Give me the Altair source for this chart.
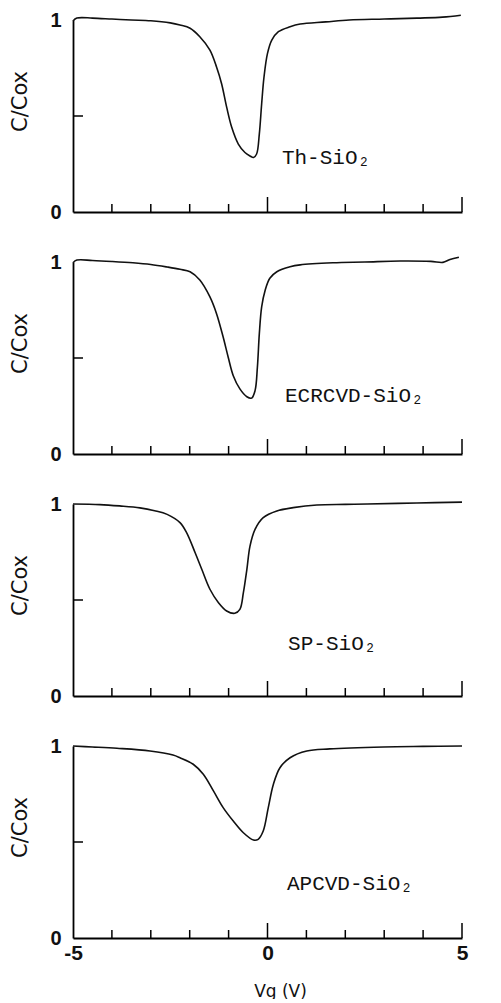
import altair as alt
import pandas as pd

# ---- data (Vg in volts, C/Cox) ----
VG_TH = [-5.0, -4.9, -4.5, -4.0, -3.5, -3.0, -2.5, -2.25, -1.99, -1.74, -1.48, -1.31, -1.18, -1.05,
         -0.92, -0.75, -0.58, -0.45, -0.36, -0.28, -0.21, -0.15, -0.09, 0.0, 0.11, 0.28, 0.58, 0.84,
         1.5, 2.1, 3.0, 3.84, 4.5, 4.97]
C_TH = [0.995, 1.01, 1.01, 1.005, 1.0, 0.996, 0.985, 0.974, 0.957, 0.913, 0.843, 0.755, 0.668, 0.546,
        0.441, 0.354, 0.31, 0.292, 0.284, 0.302, 0.407, 0.564, 0.703, 0.826, 0.895, 0.939, 0.965, 0.979,
        0.99, 1.0, 1.005, 1.01, 1.015, 1.025]

VG_ECR = [-5.0, -4.9, -4.5, -4.0, -3.46, -3.0, -2.58, -2.25, -1.99, -1.74, -1.48, -1.31, -1.14, -1.01,
          -0.88, -0.71, -0.53, -0.41, -0.32, -0.26, -0.21, -0.15, -0.06, 0.06, 0.24, 0.58, 0.84, 1.68,
          2.5, 3.41, 4.2, 4.51, 4.69, 4.92]
C_ECR = [0.996, 1.01, 1.008, 1.003, 0.996, 0.987, 0.974, 0.962, 0.949, 0.906, 0.818, 0.731, 0.609, 0.504,
         0.408, 0.339, 0.298, 0.291, 0.33, 0.452, 0.627, 0.766, 0.853, 0.915, 0.949, 0.975, 0.985, 0.996,
         1.0, 1.005, 1.003, 0.998, 1.013, 1.025]

VG_SP = [-5.0, -4.31, -3.8, -3.28, -2.9, -2.58, -2.25, -2.08, -1.86, -1.69, -1.48, -1.26, -1.05, -0.84,
         -0.71, -0.62, -0.53, -0.45, -0.32, -0.11, 0.24, 0.66, 1.27, 2.0, 2.56, 3.84, 5.0]
C_SP = [1.0, 0.997, 0.99, 0.98, 0.965, 0.946, 0.903, 0.851, 0.746, 0.66, 0.556, 0.486, 0.443, 0.431,
        0.451, 0.538, 0.66, 0.781, 0.868, 0.929, 0.964, 0.981, 0.995, 0.998, 1.0, 1.005, 1.01]

VG_AP = [-5.0, -4.5, -3.87, -3.02, -2.43, -2.25, -1.91, -1.65, -1.39, -1.14, -0.88, -0.62, -0.36, -0.24,
         -0.11, 0.02, 0.15, 0.32, 0.58, 1.01, 1.6, 2.98, 4.0, 5.0]
C_AP = [1.0, 0.995, 0.988, 0.974, 0.953, 0.939, 0.905, 0.853, 0.766, 0.679, 0.609, 0.548, 0.51, 0.514,
        0.557, 0.679, 0.8, 0.887, 0.939, 0.974, 0.985, 0.995, 0.998, 1.0]

LABELS = ["Th-SiO\u2082", "ECRCVD-SiO\u2082", "SP-SiO\u2082", "APCVD-SiO\u2082"]
LABEL_VG = [0.37, 0.45, 0.53, 0.50]
LABEL_C = [0.28, 0.30, 0.27, 0.28]

X_MINOR_TICKS = [-4, -3, -2, -1, 1, 2, 3, 4]
X_MAJOR_TICKS = [0, 5]
X_LABEL_VALUES = [-5, 0, 5]
Y_MID_TICKS = [0.5]
Y_LABEL_VALUES = [0, 1]

SERIES = [(VG_TH, C_TH), (VG_ECR, C_ECR), (VG_SP, C_SP), (VG_AP, C_AP)]

W, H = 389, 192


def panel(vg, c, label, lx, ly, bottom):
    if bottom:
        x_axis = alt.Axis(values=X_LABEL_VALUES, labels=True, ticks=False, tickSize=0, grid=False,
                          domainColor="black", domainWidth=1.8, labelFlush=False,
                          labelExpr="datum.value < 0 ? '-' + toString(abs(datum.value)) : toString(datum.value)",
                          labelFont="Liberation Sans", labelFontSize=21, labelFontWeight="bold",
                          labelColor="#111111", labelPadding=4,
                          title="Vg (V)", titleFont="DejaVu Sans", titleFontSize=17,
                          titleFontWeight="normal", titleColor="#111111", titleX=207, titleY=53,
                          titleAlign="center", titleBaseline="middle")
    else:
        x_axis = alt.Axis(values=X_LABEL_VALUES, labels=False, ticks=False, tickSize=0, grid=False,
                          domainColor="black", domainWidth=1.8, title=None)
    y_axis = alt.Axis(values=Y_LABEL_VALUES, format="d", ticks=False, tickSize=0, grid=False,
                      domainColor="black", domainWidth=1.8,
                      labelFont="Liberation Sans", labelFontSize=20, labelFontWeight="bold",
                      labelColor="#111111", labelPadding=12,
                      title="C/Cox", titleFont="DejaVu Sans", titleFontSize=21,
                      titleFontWeight="normal", titleColor="#111111", titleAngle=270,
                      titleX=-53, titleY=81, titleAlign="center", titleBaseline="middle")

    xs = alt.Scale(domain=[-5, 5], nice=False, zero=False)
    ys = alt.Scale(domain=[0, 1], nice=False, zero=False)

    df = pd.DataFrame({"vg": vg, "c": c})
    line = alt.Chart(df).mark_line(color="#111111", strokeWidth=1.6, interpolate="catmull-rom").encode(
        x=alt.X("vg:Q", scale=xs, axis=x_axis),
        y=alt.Y("c:Q", scale=ys, axis=y_axis),
    )
    minor = alt.Chart(pd.DataFrame({"vg": X_MINOR_TICKS})).mark_rule(color="black", strokeWidth=1.5).encode(
        x=alt.X("vg:Q", scale=xs), y=alt.value(H), y2=alt.value(H - 8))
    major = alt.Chart(pd.DataFrame({"vg": X_MAJOR_TICKS})).mark_rule(color="black", strokeWidth=1.5).encode(
        x=alt.X("vg:Q", scale=xs), y=alt.value(H), y2=alt.value(H - 15))
    ytick = alt.Chart(pd.DataFrame({"c": Y_MID_TICKS})).mark_rule(color="black", strokeWidth=1.5).encode(
        y=alt.Y("c:Q", scale=ys), x=alt.value(0), x2=alt.value(10))
    text = alt.Chart(pd.DataFrame({"vg": [lx], "c": [ly], "label": [label]})).mark_text(
        align="left", baseline="middle", font="Liberation Mono", fontSize=21, color="#111111").encode(
        x=alt.X("vg:Q", scale=xs), y=alt.Y("c:Q", scale=ys), text="label:N")
    return alt.layer(line, minor, major, ytick, text).properties(width=W, height=H)


panels = [panel(vg, c, LABELS[i], LABEL_VG[i], LABEL_C[i], i == 3) for i, (vg, c) in enumerate(SERIES)]

chart = alt.vconcat(*panels, spacing=50, bounds="flush").properties(
    padding={"left": 9, "top": 10, "right": 33, "bottom": 0}
).configure_view(strokeWidth=0)

chart.save("out.html", embed_options={"renderer": "svg", "actions": False})
